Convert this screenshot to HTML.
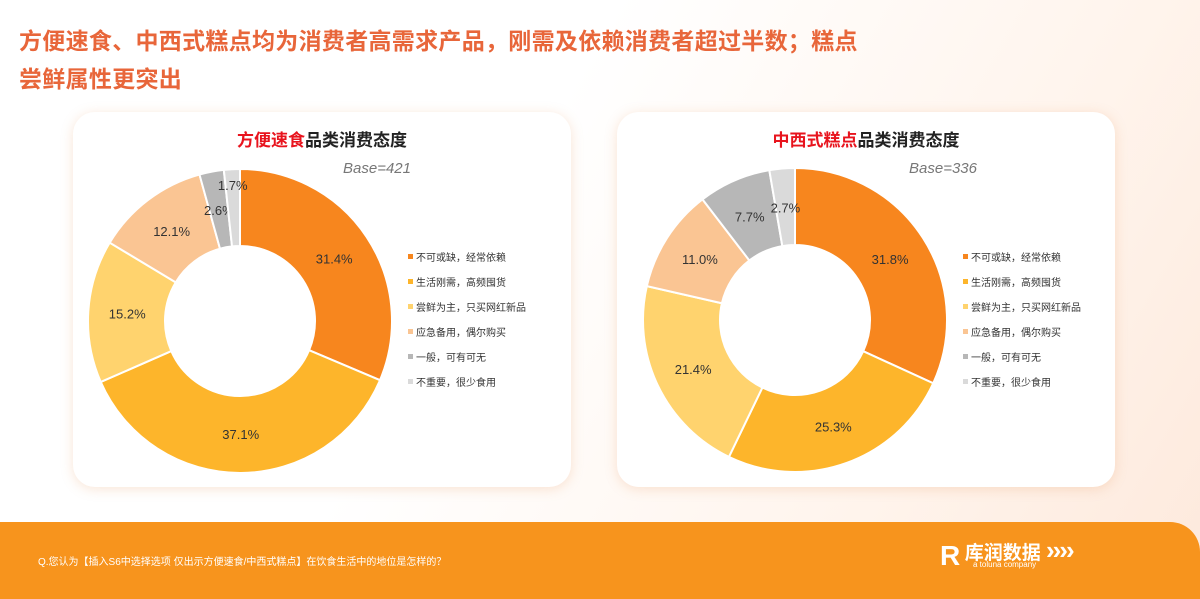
<!DOCTYPE html>
<html><head><meta charset="utf-8"><style>
body{margin:0;width:1200px;height:599px;overflow:hidden;font-family:"Liberation Sans","Noto Sans CJK SC",sans-serif;background:linear-gradient(120deg,#fff 40%,#fff4ec 75%,#fde9dc 100%);position:relative}
.title{position:absolute;left:19px;top:22px;font-size:23px;font-weight:bold;color:#E8663A;line-height:38px;letter-spacing:0.3px}
.card{position:absolute;top:112px;width:498px;height:375px;background:#fff;border-radius:22px;box-shadow:0 2px 12px rgba(230,150,90,0.25)}
.ct{position:absolute;top:14px;width:100%;text-align:center;font-size:17px;font-weight:bold;color:#222}
.ct span{color:#e8141e}
.base{position:absolute;top:48px;font-size:15px;font-style:italic;color:#777}
.footer{position:absolute;left:0;top:522px;width:1200px;height:77px;background:#F7941D;border-top-right-radius:30px}
.q{position:absolute;left:38px;top:31px;font-size:10px;color:#fff}
.logo{position:absolute;left:940px;top:18px;color:#fff}
</style></head><body>
<div class="title">方便速食、中西式糕点均为消费者高需求产品，刚需及依赖消费者超过半数；糕点<br>尝鲜属性更突出</div>
<div class="card" style="left:73px">
 <div class="ct"><span>方便速食</span>品类消费态度</div>
 <div class="base" style="left:270px">Base=421</div>
</div>
<div class="card" style="left:617px">
 <div class="ct"><span>中西式糕点</span>品类消费态度</div>
 <div class="base" style="left:292px">Base=336</div>
</div>
<svg id="svg" width="1200" height="599" style="position:absolute;left:0;top:0"></svg>
<div class="footer">
 <div class="q">Q.您认为【插入S6中选择选项  仅出示方便速食/中西式糕点】在饮食生活中的地位是怎样的？</div>
 <div class="logo"><span style="font-size:28px;font-weight:bold">R</span> <span style="font-size:19px;font-weight:bold;position:relative;top:-6px">库润数据 <span style="font-size:26px;letter-spacing:-2px">››››</span></span><div style="font-size:8px;position:relative;left:33px;top:-12px">a toluna company</div></div>
</div>
<script>
const categories=["不可或缺，经常依赖","生活刚需，高频囤货","尝鲜为主，只买网红新品","应急备用，偶尔购买","一般，可有可无","不重要，很少食用"];
const leftValues=[31.4,37.1,15.2,12.1,2.6,1.7];
const rightValues=[31.8,25.3,21.4,11.0,7.7,2.7];
const colors=["#F7861E","#FDB52B","#FFD36E","#FAC593","#B7B7B7","#DADADA"];
const svg=document.getElementById('svg');const NS='http://www.w3.org/2000/svg';
function pt(cx,cy,r,a){return [cx+r*Math.sin(a),cy-r*Math.cos(a)];}
function donut(cx,cy,vals,lx,name){
 const tot=vals.reduce((a,b)=>a+b,0);let cum=0;const R=152,r=75;
 vals.forEach((v,i)=>{
  const a0=cum/tot*2*Math.PI,a1=(cum+v)/tot*2*Math.PI;cum+=v;
  const big=a1-a0>Math.PI?1:0;
  const p0=pt(cx,cy,R,a0),p1=pt(cx,cy,R,a1),q1=pt(cx,cy,r,a1),q0=pt(cx,cy,r,a0);
  const p=document.createElementNS(NS,'path');
  p.setAttribute('d',`M${p0}A${R},${R} 0 ${big} 1 ${p1}L${q1}A${r},${r} 0 ${big} 0 ${q0}Z`);
  p.setAttribute('fill',colors[i]);p.setAttribute('stroke','#fff');p.setAttribute('stroke-width','2');
  
  
  svg.appendChild(p);
  const am=(a0+a1)/2;const lp=pt(cx,cy,v<2?136:113,am);
  const t=document.createElementNS(NS,'text');
  t.setAttribute('x',lp[0]);t.setAttribute('y',lp[1]+5);t.setAttribute('text-anchor','middle');
  t.setAttribute('font-size','13');t.setAttribute('fill','#333');t.textContent=v.toFixed(1)+'%';
  
  
  svg.appendChild(t);
 });
 categories.forEach((c,i)=>{
  const y=258+i*25;
  const s=document.createElementNS(NS,'rect');
  s.setAttribute('x',lx);s.setAttribute('y',y-4);s.setAttribute('width',5);s.setAttribute('height',5);s.setAttribute('fill',colors[i]);
  
  
  svg.appendChild(s);
  const t=document.createElementNS(NS,'text');
  t.setAttribute('x',lx+8);t.setAttribute('y',y+3);t.setAttribute('font-size','10');t.setAttribute('fill','#333');t.textContent=c;
  
  
  svg.appendChild(t);
 });
}
donut(240,321,leftValues,408,'left');
donut(795,320,rightValues,963,'right');
</script>
</body></html>
